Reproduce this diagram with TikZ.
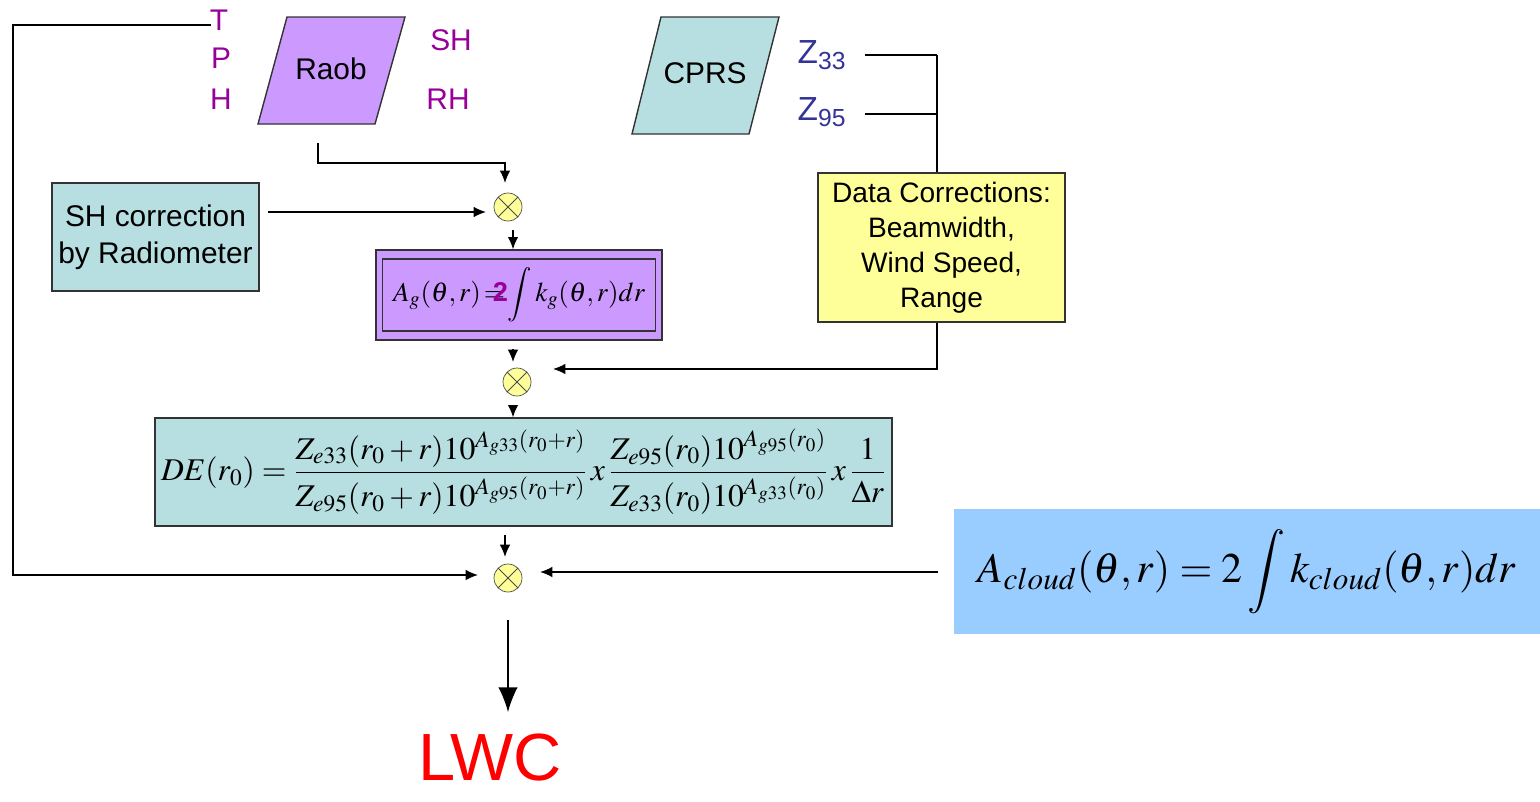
\documentclass[tikz,border=0pt]{standalone}
\usepackage{amsmath}
\usepackage{mathptmx}
\usepackage[no-math]{fontspec}
\setmainfont{Liberation Sans}
\usetikzlibrary{arrows.meta}
\definecolor{violetRaob}{RGB}{204,153,255}
\definecolor{bleuBoite}{RGB}{183,222,224}
\definecolor{jauneBoite}{RGB}{255,255,153}
\definecolor{bleuNuage}{RGB}{153,204,255}
\definecolor{violetTexte}{RGB}{153,0,153}
\definecolor{bleuZ}{RGB}{51,51,153}
\newcommand*{\tailleTexte}{\fontsize{17}{21}\selectfont}
\newcommand*{\Rmult}{0.56cm}
\tikzset{
	boite/.style ={draw=black!80,line width=0.8pt,align=center,font=\tailleTexte},
	mult/.style ={circle,draw=black!70,fill=jauneBoite,minimum size=\Rmult,inner sep=0pt,
		path picture={\draw[black!70,line width=0.5pt]
			(path picture bounding box.north west)--(path picture bounding box.south east)
			(path picture bounding box.north east)--(path picture bounding box.south west);}},
	fleche/.style ={line width=0.8pt,-{Latex[length=7pt,width=6pt]}},
	lien/.style ={line width=0.8pt},
	etiq/.style ={font=\tailleTexte,text=violetTexte},
	etiqZ/.style ={font=\fontsize{19}{22}\selectfont,text=bleuZ}
}

\begin{document}
\begin{tikzpicture}[x=0.02cm,y=-0.02cm]
	\useasboundingbox (0,0) rectangle (1540,801);

	% sources
	\draw[boite,fill=violetRaob] (287,17)--(405,17)--(375,124)--(258,124)--cycle;
	\node[font=\tailleTexte] (raob) at (331,69) {Raob};
	\draw[boite,fill=bleuBoite] (661,17)--(779,17)--(749,134)--(632,134)--cycle;
	\node[font=\tailleTexte] (cprs) at (705,73) {CPRS};

	\node[etiq] (T) at (219,20) {T};
	\node[etiq] (P) at (221,58) {P};
	\node[etiq] (H) at (221,99) {H};
	\node[etiq] (SH) at (451,40) {SH};
	\node[etiq] (RH) at (448,99) {RH};
	\node[etiqZ] (z33) at (822,55) {Z\textsubscript{33}};
	\node[etiqZ] (z95) at (822,112) {Z\textsubscript{95}};

	% boites
	\node[boite,fill=bleuBoite,minimum width=4.14cm,minimum height=2.16cm] (shcorr) at (155.5,237)
		{SH correction\\by Radiometer};
	\node[boite,fill=jauneBoite,minimum width=4.94cm,minimum height=2.98cm,
		font=\fontsize{16}{20}\selectfont] (corr) at (941.5,247.5)
		{Data Corrections:\\Beamwidth,\\ Wind Speed,\\Range};
	\node[boite,fill=violetRaob,minimum width=5.72cm,minimum height=1.8cm] (agout) at (519,295) {};
	\node[boite,minimum width=5.46cm,minimum height=1.44cm,inner sep=1pt,font=\fontsize{15.5}{19}\selectfont] (ag) at (agout)
		{$A_g(\theta,r)\,{=}\hspace{-0.45em}$\textcolor{violetTexte}{\textbf{2}}$\displaystyle\int k_g(\theta,r)dr$};
	\node[boite,fill=bleuBoite,minimum width=14.58cm,minimum height=2.16cm,font=\fontsize{18}{22}\selectfont] (de) at (523.5,472)
		{$DE(r_0)=\dfrac{Z_{e33}(r_0+r)10^{A_{g33}(r_0+r)}}{Z_{e95}(r_0+r)10^{A_{g95}(r_0+r)}}\,x\,
		\dfrac{Z_{e95}(r_0)10^{A_{g95}(r_0)}}{Z_{e33}(r_0)10^{A_{g33}(r_0)}}\,x\,\dfrac{1}{\Delta r}$};
	\node[fill=bleuNuage,minimum width=11.72cm,minimum height=2.5cm,font=\fontsize{24}{28}\selectfont] (nuage) at (1247,571.5)
		{$A_{cloud}(\theta,r)=2\displaystyle\int k_{cloud}(\theta,r)dr$};

	% multiplieurs
	\node[mult] (m1) at (508,207) {};
	\node[mult] (m2) at (517,382) {};
	\node[mult] (m3) at (508,578) {};

	\node[text=red,inner sep=0pt,font=\fontsize{38}{42}\selectfont] (lwc) at (490,758) {LWC};

	% liaisons
	\coordinate (raobout) at (318,143);
	\coordinate (tout) at (211,25);
	\draw[fleche] (raobout)--(318,163)--(505,163)--(505,183);
	\draw[fleche] (shcorr.east|-m1)++(8,5)--(486,212);
	\draw[fleche] (513,230)--(agout.north-|513,0);
	\draw[fleche] (513,349)--(513,362);
	\draw[fleche] (corr.south-|937,0)--(937,369)--(553,369);
	\draw[fleche] (513,405)--(de.north-|513,0);
	\draw[fleche] (505,535)--(505,557);
	\draw[fleche] (tout)--(13,25)--(13,575)--(478,575);
	\draw[fleche] (nuage.west|-0,572)++(-16,0)--(540,572);
	\draw[line width=0.8pt,-{Latex[length=14pt,width=11pt]}] (508,620)--(508,712);
	\draw[lien] (z33.east)++(12,0)--(937,55);
	\draw[lien] (z95.east)++(12,2)--(937,114);
	\draw[lien] (937,55)--(corr.north-|937,0);
\end{tikzpicture}
\end{document}
